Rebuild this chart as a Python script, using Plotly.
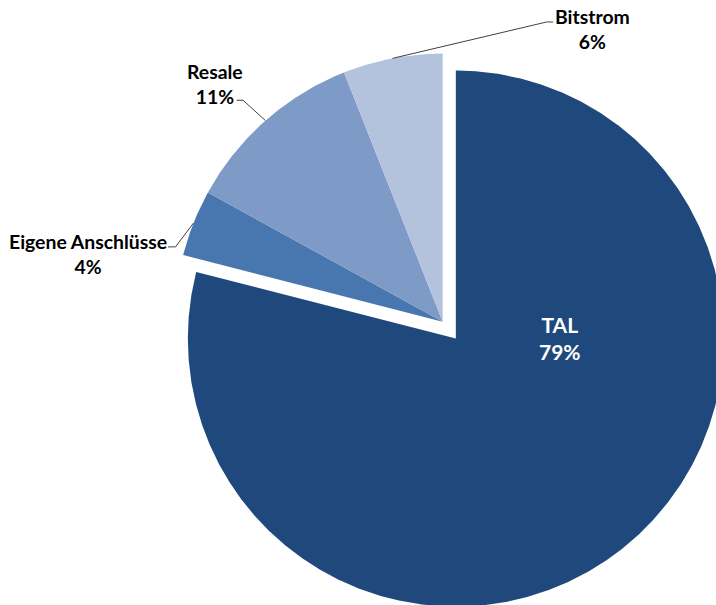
import numpy as np
import plotly.graph_objects as go

# Market shares of connection types (percent)
categories = ["TAL", "Eigene Anschlüsse", "Resale", "Bitstrom"]
shares = [79, 4, 11, 6]

# Styling
colors = ["#1F497D", "#4876AF", "#7E9AC7", "#B3C3DE"]
pulls = [0.08, 0.0, 0.0, 0.0]          # explode distance as a fraction of the radius
text_colors = ["white", "black", "black", "black"]
font_sizes = [21, 19.4, 19.4, 19.4]

# Label centres (data units, pie radius = 1, pie centre at origin)
label_pos = [(0.438, -0.062), (-1.322, 0.252), (-0.848, 0.888), (0.559, 1.092)]
# Leader-line start and elbow for outside labels (None = label inside the slice)
leader_start = [None, (-1.025, 0.279), (-0.769, 0.826), (0.412, 1.118)]
leader_elbow = [None, (-0.997, 0.279), (-0.745, 0.826), (0.388, 1.118)]

fig = go.Figure()

total = float(sum(shares))
start = 0.0  # degrees clockwise from 12 o'clock
for i, (cat, val) in enumerate(zip(categories, shares)):
    span = 360.0 * val / total
    mid = np.radians(start + span / 2)
    ox, oy = pulls[i] * np.sin(mid), pulls[i] * np.cos(mid)
    theta = np.radians(np.linspace(start, start + span, max(int(span * 3), 8)))
    xs = np.concatenate([[ox], ox + np.sin(theta), [ox]])
    ys = np.concatenate([[oy], oy + np.cos(theta), [oy]])
    fig.add_trace(go.Scatter(
        x=xs, y=ys, mode="lines", fill="toself",
        fillcolor=colors[i], line=dict(width=0, color=colors[i]),
        name=cat, hoverinfo="name", showlegend=False,
    ))

    if leader_start[i] is not None:
        ex, ey = ox + np.sin(mid), oy + np.cos(mid)
        fig.add_trace(go.Scatter(
            x=[leader_start[i][0], leader_elbow[i][0], ex],
            y=[leader_start[i][1], leader_elbow[i][1], ey],
            mode="lines", line=dict(color="#404040", width=1),
            hoverinfo="skip", showlegend=False,
        ))

    fig.add_annotation(
        x=label_pos[i][0], y=label_pos[i][1],
        text=f"{cat}<br>{val}%", showarrow=False,
        xanchor="center", yanchor="middle", align="center",
        font=dict(family="Lato", size=font_sizes[i], color=text_colors[i], weight="bold"),
    )
    start += span

fig.update_xaxes(range=[-1.652, 1.020], visible=False, fixedrange=True)
fig.update_yaxes(range=[-1.057, 1.200], visible=False, fixedrange=True)
fig.update_layout(
    width=716, height=605, autosize=False,
    margin=dict(l=0, r=0, t=0, b=0),
    paper_bgcolor="white", plot_bgcolor="white",
    showlegend=False,
)

fig.write_html("out.html")
